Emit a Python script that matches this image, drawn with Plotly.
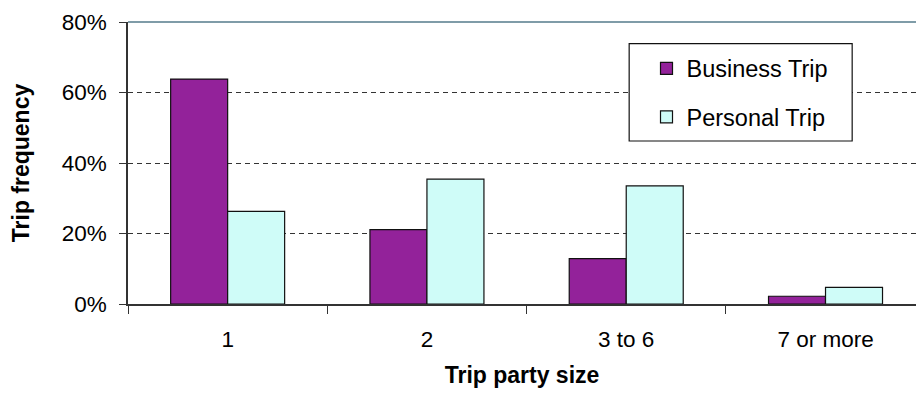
import plotly.graph_objects as go

# Trip party size distribution by trip purpose
party_sizes = ["1", "2", "3 to 6", "7 or more"]
business_pct = [63.8, 21.1, 12.9, 2.2]
personal_pct = [26.3, 35.4, 33.5, 4.7]
y_ticks = [0, 20, 40, 60, 80]
y_tick_text = [f"{v}%" for v in y_ticks]

FONT = "Liberation Sans, Arial, sans-serif"
AXIS_COLOR = "#333333"

fig = go.Figure()
fig.add_trace(go.Bar(
    name="Business Trip", x=party_sizes, y=business_pct,
    marker=dict(color="#93229A", line=dict(color="#111111", width=1.2)),
    legendgroup="b",
))
fig.add_trace(go.Bar(
    name="Personal Trip", x=party_sizes, y=personal_pct,
    marker=dict(color="#CFFCF8", line=dict(color="#111111", width=1.2)),
    legendgroup="p",
))

fig.update_layout(
    width=916, height=396,
    margin=dict(l=128, r=0, t=22, b=92),
    paper_bgcolor="white", plot_bgcolor="white",
    font=dict(family=FONT, size=23, color="black"),
    barmode="group", bargap=0.428, bargroupgap=0,
    showlegend=True,
    legend=dict(
        x=0.658, y=0.913, xanchor="left", yanchor="top",
        bgcolor="rgba(0,0,0,0)", borderwidth=0,
        font=dict(family=FONT, size=23.5, color="black"),
        traceorder="grouped", tracegroupgap=15,
    ),
    shapes=[
        # legend frame
        dict(type="rect", xref="paper", yref="paper",
             x0=0.636, x1=0.919, y0=0.578, y1=0.923,
             line=dict(color="#111111", width=1.2), fillcolor="white",
             layer="above"),
        # plot-area top edge
        dict(type="line", xref="paper", yref="paper", x0=0, x1=1, y0=1, y1=1,
             line=dict(color="#7F9CA8", width=2), layer="above"),
    ],
)

fig.update_xaxes(
    type="category", range=[-0.5, 3.454],
    showline=True, linecolor=AXIS_COLOR, linewidth=1.5,
    ticks="outside", tickson="boundaries", ticklen=8, tickcolor=AXIS_COLOR, tickwidth=1,
    showgrid=False, zeroline=False,
    tickfont=dict(size=22.5),
    ticklabelstandoff=14,
    title=dict(text="<b>Trip party size</b>", font=dict(size=23), standoff=16),
)
fig.update_yaxes(
    range=[0, 80], tickmode="array", tickvals=y_ticks, ticktext=y_tick_text,
    showline=True, linecolor=AXIS_COLOR, linewidth=1.5,
    ticks="outside", ticklen=7, tickcolor=AXIS_COLOR, tickwidth=1,
    showgrid=True, gridcolor="#333333", gridwidth=1, griddash="5px,4px",
    zeroline=False,
    tickfont=dict(size=22.5),
    ticklabelstandoff=8,
    title=dict(text="<b>Trip frequency</b>", font=dict(size=23), standoff=26),
)

fig.write_html("out.html")
